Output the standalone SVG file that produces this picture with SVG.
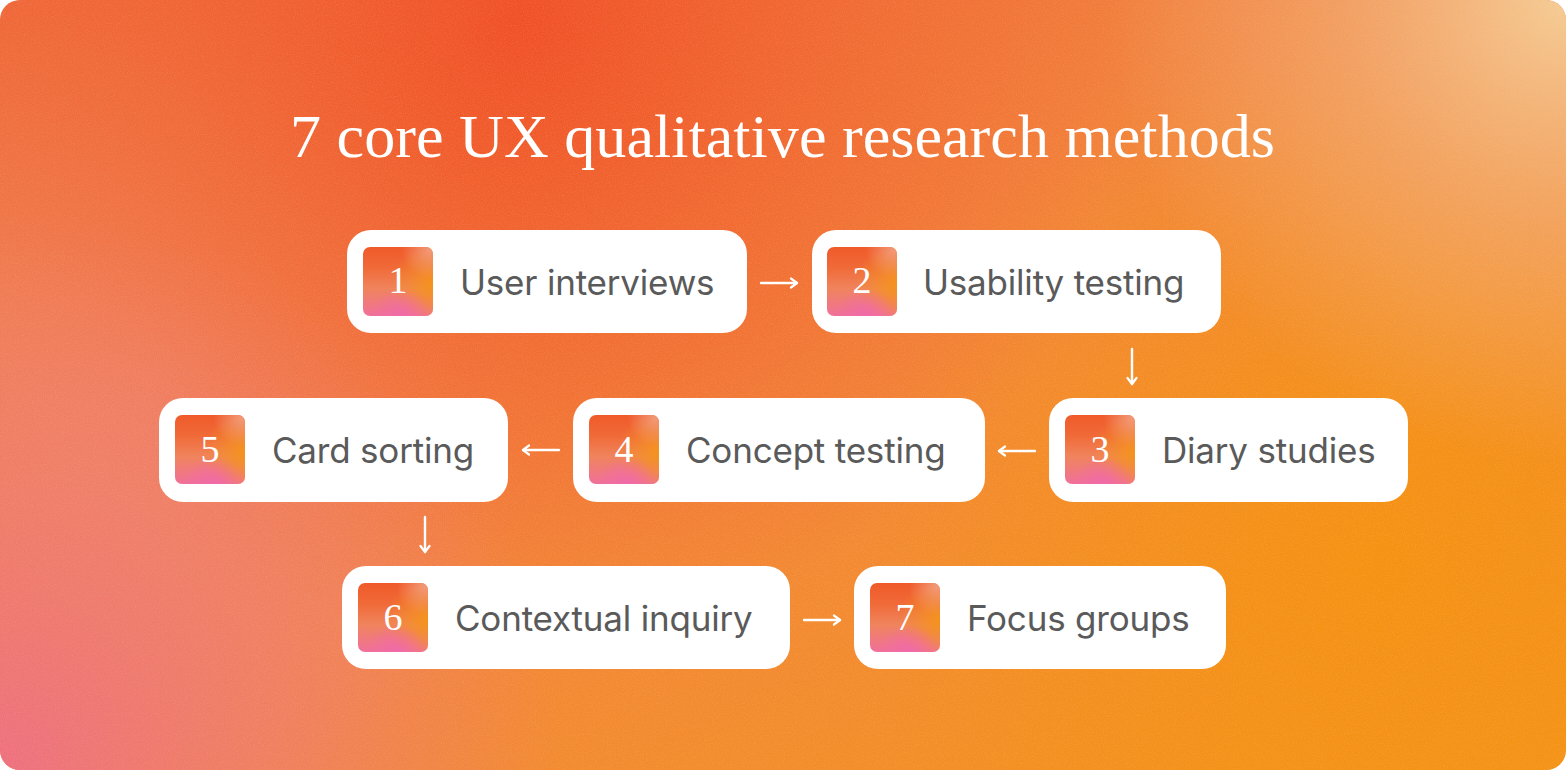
<svg xmlns="http://www.w3.org/2000/svg" width="1566" height="770" viewBox="0 0 1566 770">
  <defs>
    <linearGradient id="bgBase" x1="0" y1="0" x2="1" y2="1">
      <stop offset="0" stop-color="#ef6a3c"/>
      <stop offset="0.5" stop-color="#f2853a"/>
      <stop offset="1" stop-color="#f4941a"/>
    </linearGradient>
    <radialGradient id="bgRed" cx="520" cy="20" r="620" gradientUnits="userSpaceOnUse">
      <stop offset="0" stop-color="#f04e24" stop-opacity="0.95"/>
      <stop offset="0.55" stop-color="#f15a2a" stop-opacity="0.45"/>
      <stop offset="1" stop-color="#f15a2a" stop-opacity="0"/>
    </radialGradient>
    <radialGradient id="bgPink" cx="0" cy="770" r="560" gradientUnits="userSpaceOnUse">
      <stop offset="0" stop-color="#ee7080" stop-opacity="1"/>
      <stop offset="0.5" stop-color="#ef7a78" stop-opacity="0.6"/>
      <stop offset="1" stop-color="#ef7a78" stop-opacity="0"/>
    </radialGradient>
    <radialGradient id="bgPeach" cx="1566" cy="0" r="460" gradientUnits="userSpaceOnUse">
      <stop offset="0" stop-color="#f5cc95" stop-opacity="1"/>
      <stop offset="0.5" stop-color="#f3b07a" stop-opacity="0.6"/>
      <stop offset="1" stop-color="#f3b07a" stop-opacity="0"/>
    </radialGradient>
    <radialGradient id="bgOrange" cx="1380" cy="560" r="520" gradientUnits="userSpaceOnUse">
      <stop offset="0" stop-color="#f5920f" stop-opacity="0.9"/>
      <stop offset="1" stop-color="#f5920f" stop-opacity="0"/>
    </radialGradient>
    <radialGradient id="bgMidPink" cx="150" cy="400" r="400" gradientUnits="userSpaceOnUse">
      <stop offset="0" stop-color="#f08c6c" stop-opacity="0.7"/>
      <stop offset="1" stop-color="#f08c6c" stop-opacity="0"/>
    </radialGradient>
    <filter id="grain" x="0" y="0" width="100%" height="100%">
      <feTurbulence type="fractalNoise" baseFrequency="0.9" numOctaves="2" seed="3" result="n"/>
      <feColorMatrix type="matrix" values="0 0 0 0 1  0 0 0 0 0.85  0 0 0 0 0.7  0 0 0 0.9 -0.35"/>
    </filter>
    <clipPath id="cardClip">
      <rect x="0" y="0" width="1566" height="770" rx="20"/>
    </clipPath>

    <linearGradient id="badgeBase" x1="0" y1="0" x2="0" y2="1">
      <stop offset="0" stop-color="#f05a2a"/>
      <stop offset="0.3" stop-color="#f06a38"/>
      <stop offset="0.6" stop-color="#f0845c"/>
      <stop offset="1" stop-color="#f0709a"/>
    </linearGradient>
    <radialGradient id="badgeOrange" cx="1" cy="0.55" r="0.6">
      <stop offset="0" stop-color="#f5941a" stop-opacity="0.95"/>
      <stop offset="1" stop-color="#f5941a" stop-opacity="0"/>
    </radialGradient>
    <radialGradient id="badgePink" cx="0.55" cy="1.05" r="0.45">
      <stop offset="0" stop-color="#f06aa8" stop-opacity="1"/>
      <stop offset="1" stop-color="#f06aa8" stop-opacity="0"/>
    </radialGradient>
    <radialGradient id="badgeLight" cx="0.95" cy="0.05" r="0.4">
      <stop offset="0" stop-color="#f2a68a" stop-opacity="0.8"/>
      <stop offset="1" stop-color="#f2a68a" stop-opacity="0"/>
    </radialGradient>

    <marker id="head" viewBox="0 0 12 12" refX="10" refY="6" markerWidth="12" markerHeight="12" markerUnits="userSpaceOnUse" orient="auto">
      <path d="M4 1.5 L10 6 L4 10.5" fill="none" stroke="#ffffff" stroke-width="2.2" stroke-linecap="round" stroke-linejoin="round"/>
    </marker>

    <style>
      .title { font-family: "Liberation Serif", "Times New Roman", serif; font-size: 62px; fill: #ffffff; }
      .box { fill: #ffffff; }
      .label { font-family: Inter, "Liberation Sans", Arial, sans-serif; font-size: 35px; letter-spacing: -0.2px; fill: #5a5a5a; }
      .num { font-family: "Liberation Serif", "Times New Roman", serif; font-size: 38px; fill: #ffffff; text-anchor: middle; }
      .conn { stroke: #ffffff; stroke-width: 2.4; fill: none; stroke-linecap: round; marker-end: url(#head); }
    </style>
    <g id="badgeShape">
      <rect width="70" height="69" rx="7" fill="url(#badgeBase)"/>
      <rect width="70" height="69" rx="7" fill="url(#badgeOrange)"/>
      <rect width="70" height="69" rx="7" fill="url(#badgePink)"/>
      <rect width="70" height="69" rx="7" fill="url(#badgeLight)"/>
    </g>
  </defs>

  <g id="background" clip-path="url(#cardClip)">
    <rect width="1566" height="770" fill="url(#bgBase)"/>
    <rect width="1566" height="770" fill="url(#bgOrange)"/>
    <rect width="1566" height="770" fill="url(#bgMidPink)"/>
    <rect width="1566" height="770" fill="url(#bgRed)"/>
    <rect width="1566" height="770" fill="url(#bgPink)"/>
    <rect width="1566" height="770" fill="url(#bgPeach)"/>
    <rect width="1566" height="770" filter="url(#grain)" opacity="0.25"/>
  </g>

  <text class="title" x="290" y="157" textLength="985" lengthAdjust="spacingAndGlyphs">7 core UX qualitative research methods</text>

  <g id="connectors">
    <path class="conn" d="M761 283 H797"/>
    <path class="conn" d="M1132 349 V384"/>
    <path class="conn" d="M1035 451 H999"/>
    <path class="conn" d="M559 450 H523"/>
    <path class="conn" d="M425 517 V552"/>
    <path class="conn" d="M804 620 H840"/>
  </g>

  <g id="node1">
    <rect class="box" x="347" y="230" width="400" height="103" rx="24"/>
    <use href="#badgeShape" x="363" y="247"/>
    <text class="num" x="398" y="293">1</text>
    <text class="label" x="460" y="295">User interviews</text>
  </g>
  <g id="node2">
    <rect class="box" x="812" y="230" width="409" height="103" rx="24"/>
    <use href="#badgeShape" x="827" y="247"/>
    <text class="num" x="862" y="293">2</text>
    <text class="label" x="923" y="295">Usability testing</text>
  </g>
  <g id="node3">
    <rect class="box" x="1049" y="398" width="359" height="104" rx="24"/>
    <use href="#badgeShape" x="1065" y="415"/>
    <text class="num" x="1100" y="462">3</text>
    <text class="label" x="1162" y="463">Diary studies</text>
  </g>
  <g id="node4">
    <rect class="box" x="573" y="398" width="412" height="104" rx="24"/>
    <use href="#badgeShape" x="589" y="415"/>
    <text class="num" x="624" y="462">4</text>
    <text class="label" x="686" y="463">Concept testing</text>
  </g>
  <g id="node5">
    <rect class="box" x="159" y="398" width="349" height="104" rx="24"/>
    <use href="#badgeShape" x="175" y="415"/>
    <text class="num" x="210" y="462">5</text>
    <text class="label" x="272" y="463">Card sorting</text>
  </g>
  <g id="node6">
    <rect class="box" x="342" y="566" width="448" height="103" rx="24"/>
    <use href="#badgeShape" x="358" y="583"/>
    <text class="num" x="393" y="630">6</text>
    <text class="label" x="455" y="631">Contextual inquiry</text>
  </g>
  <g id="node7">
    <rect class="box" x="854" y="566" width="372" height="103" rx="24"/>
    <use href="#badgeShape" x="870" y="583"/>
    <text class="num" x="905" y="630">7</text>
    <text class="label" x="967" y="631">Focus groups</text>
  </g>
</svg>
